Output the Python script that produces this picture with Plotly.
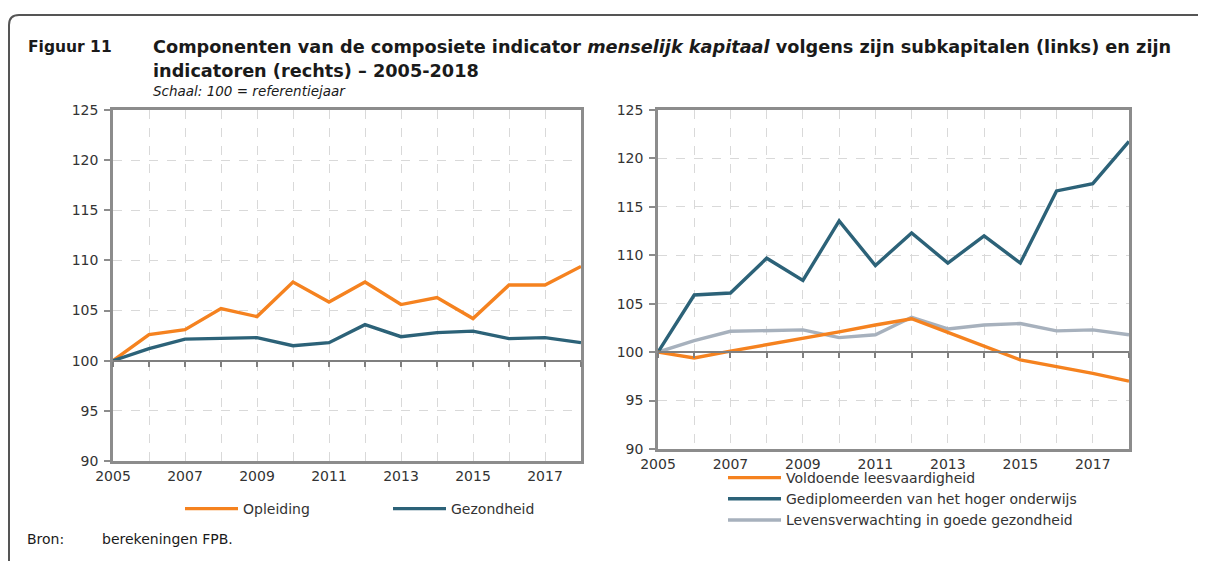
import plotly.graph_objects as go

W, H = 1206, 561
OFF = 8  # page body margin of the html page

years = list(range(2005, 2019))

# Left panel: subkapitalen
opleiding = [100, 102.6, 103.1, 105.2, 104.4, 107.85, 105.85, 107.85, 105.6, 106.3, 104.2, 107.55, 107.55, 109.4]
gezondheid = [100, 101.2, 102.15, 102.2, 102.3, 101.5, 101.8, 103.6, 102.4, 102.8, 102.95, 102.2, 102.3, 101.8]

# Right panel: indicatoren
leesvaardigheid = [100, 99.4, 100.1, 100.75, 101.4, 102.1, 102.8, 103.45, 102.05, 100.6, 99.2, 98.5, 97.8, 97.0]
gediplomeerden = [100, 105.9, 106.1, 109.7, 107.4, 113.55, 108.95, 112.3, 109.2, 112.0, 109.2, 116.65, 117.4, 121.75]
levensverwachting = [100, 101.2, 102.15, 102.2, 102.3, 101.5, 101.8, 103.6, 102.4, 102.8, 102.95, 102.2, 102.3, 101.8]

ytick_vals = [90, 95, 100, 105, 110, 115, 120, 125]
xtick_vals = [2005, 2007, 2009, 2011, 2013, 2015, 2017]

ORANGE = "#F5821F"
TEAL = "#2C6278"
GREY = "#A7B1BD"
AXIS = "#8C8C8C"
GRID = "#D9D9D9"
TXT = "#333333"
FONT = "DejaVu Sans"

YMIN, YMAX = 90, 125

def px_x(p):
    return (p - OFF) / W

def px_y(p):
    return 1 - (p - OFF) / H

L_dom_x = [px_x(113), px_x(581)]
L_dom_y = [px_y(461), px_y(110)]
R_dom_x = [px_x(658), px_x(1129)]
R_dom_y = [px_y(449), px_y(110)]

def base_pos(dom):
    return dom[0] + (100 - YMIN) / (YMAX - YMIN) * (dom[1] - dom[0])

fig = go.Figure()

def add_line(x, y, name, color, xa, ya, legend):
    fig.add_trace(go.Scatter(x=x, y=y, name=name, mode="lines",
                             line=dict(color=color, width=3.4),
                             xaxis=xa, yaxis=ya, legend=legend))

# base axis dummy traces (draw the 100 line with tick marks)
fig.add_trace(go.Scatter(x=years, y=[None] * len(years), xaxis="x3", yaxis="y",
                         showlegend=False, hoverinfo="skip"))
fig.add_trace(go.Scatter(x=years, y=[None] * len(years), xaxis="x4", yaxis="y2",
                         showlegend=False, hoverinfo="skip"))

add_line(years, opleiding, "Opleiding", ORANGE, "x", "y", "legend")
add_line(years, gezondheid, "Gezondheid", TEAL, "x", "y", "legend")
add_line(years, levensverwachting, "Levensverwachting in goede gezondheid", GREY, "x2", "y2", "legend2")
add_line(years, gediplomeerden, "Gediplomeerden van het hoger onderwijs", TEAL, "x2", "y2", "legend2")
add_line(years, leesvaardigheid, "Voldoende leesvaardigheid", ORANGE, "x2", "y2", "legend2")

def xaxis_cfg(dom, anchor):
    return dict(domain=dom, anchor=anchor, range=[2005, 2018],
                tickvals=xtick_vals, ticks="", showline=True, mirror=True,
                linecolor=AXIS, linewidth=2.5, showgrid=True, gridcolor=GRID,
                griddash="dash", gridwidth=1, zeroline=False,
                tickfont=dict(family=FONT, size=14, color=TXT),
                minor=dict(dtick=1, tick0=2005, showgrid=True, gridcolor=GRID,
                           griddash="dash", gridwidth=1))

def yaxis_cfg(dom, anchor):
    return dict(domain=dom, anchor=anchor, range=[YMIN, YMAX],
                tickvals=ytick_vals, ticks="outside", ticklen=6, tickwidth=1.5,
                tickcolor=AXIS, showline=True, mirror=True, linecolor=AXIS,
                linewidth=2.5, showgrid=True, gridcolor=GRID, griddash="dash",
                gridwidth=1, zeroline=False, ticklabelstandoff=3,
                tickfont=dict(family=FONT, size=14, color=TXT))

def base_axis(over, pos, dom):
    return dict(overlaying=over, anchor="free", position=pos, domain=dom,
                range=[2005, 2018], dtick=1, tick0=2005, ticks="outside",
                ticklen=5, tickwidth=2, tickcolor="#7F7F7F", showline=True,
                linecolor="#7F7F7F", linewidth=2, showticklabels=False,
                showgrid=False, zeroline=False, side="bottom")

fig.update_layout(
    width=W, height=H,
    margin=dict(l=0, r=0, t=0, b=0, autoexpand=False),
    paper_bgcolor="white", plot_bgcolor="white",
    font=dict(family=FONT, color=TXT),
    xaxis=xaxis_cfg(L_dom_x, "y"),
    yaxis=yaxis_cfg(L_dom_y, "x"),
    xaxis2=xaxis_cfg(R_dom_x, "y2"),
    yaxis2=yaxis_cfg(R_dom_y, "x2"),
    xaxis3=base_axis("x", base_pos(L_dom_y), L_dom_x),
    xaxis4=base_axis("x2", base_pos(R_dom_y), R_dom_x),
    showlegend=True,
    legend=dict(orientation="h", x=px_x(180), y=px_y(509), xanchor="left",
                yanchor="middle", font=dict(family=FONT, size=14, color=TXT),
                entrywidth=140, entrywidthmode="pixels", itemwidth=53,
                bgcolor="rgba(0,0,0,0)", traceorder="normal"),
    legend2=dict(orientation="v", x=px_x(723), y=px_y(499), xanchor="left",
                 yanchor="middle", font=dict(family=FONT, size=14, color=TXT),
                 itemwidth=53, bgcolor="rgba(0,0,0,0)", traceorder="reversed",
                 tracegroupgap=0),
)

# outer rounded frame
x0, y0, r = px_x(9), px_y(15), 10
path = (f"M {x0},{px_y(H + 20)} L {x0},{px_y(15 + r)} "
        f"Q {x0},{y0} {px_x(9 + r)},{y0} L {px_x(W + 20)},{y0}")
fig.add_shape(type="path", path=path, xref="paper", yref="paper",
              line=dict(color="#555555", width=2))

title_font = dict(family=FONT, size=17.7, color="#1a1a1a")
fig.add_annotation(text="<b>Figuur 11</b>", x=px_x(26), y=px_y(47), xref="paper",
                   yref="paper", xanchor="left", yanchor="middle",
                   showarrow=False, font=dict(family=FONT, size=15.5, color="#1a1a1a"))
fig.add_annotation(text="<b>Componenten van de composiete indicator <i>menselijk kapitaal</i> "
                        "volgens zijn subkapitalen (links) en zijn</b>",
                   x=px_x(151), y=px_y(47), xref="paper", yref="paper",
                   xanchor="left", yanchor="middle", showarrow=False, font=title_font)
fig.add_annotation(text="<b>indicatoren (rechts) – 2005-2018</b>",
                   x=px_x(151), y=px_y(71), xref="paper", yref="paper",
                   xanchor="left", yanchor="middle", showarrow=False, font=title_font)
fig.add_annotation(text="<i>Schaal: 100 = referentiejaar</i>",
                   x=px_x(151), y=px_y(91), xref="paper", yref="paper",
                   xanchor="left", yanchor="middle", showarrow=False,
                   font=dict(family=FONT, size=13.5, color="#1a1a1a"))
fig.add_annotation(text="Bron:", x=px_x(25), y=px_y(539), xref="paper", yref="paper",
                   xanchor="left", yanchor="middle", showarrow=False,
                   font=dict(family=FONT, size=14, color="#1a1a1a"))
fig.add_annotation(text="berekeningen FPB.", x=px_x(100), y=px_y(539), xref="paper",
                   yref="paper", xanchor="left", yanchor="middle", showarrow=False,
                   font=dict(family=FONT, size=14, color="#1a1a1a"))

fig.write_html("out.html")
